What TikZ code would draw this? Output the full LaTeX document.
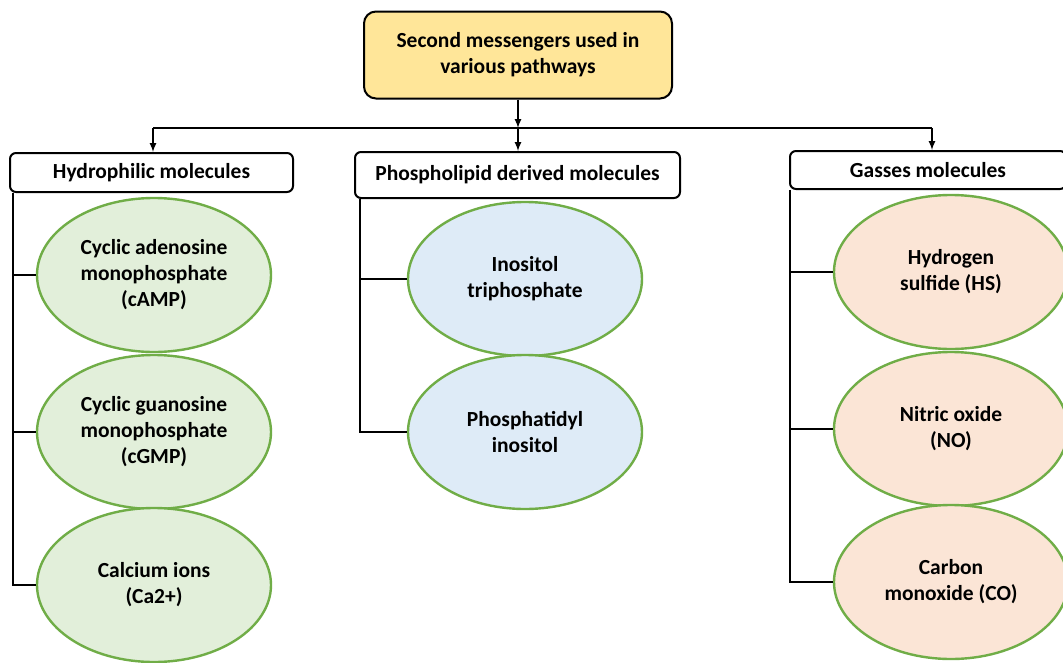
\documentclass[tikz,border=0pt]{standalone}
\usepackage{fontspec}
\setmainfont{Carlito}
\usepackage{xcolor}
\usepackage{tikz}
\usetikzlibrary{shapes,shapes.geometric}
\usetikzlibrary{calc,arrows,positioning}
\definecolor{topfill}{HTML}{FFE699}
\definecolor{greenfill}{HTML}{E2EFDA}
\definecolor{bluefill}{HTML}{DEEBF7}
\definecolor{orangefill}{HTML}{FBE5D6}
\definecolor{ringcol}{HTML}{70AD47}
\tikzset{
  txt/.style = {align=center, text centered, inner sep=0pt, font=\fontsize{21.5}{26}\selectfont\bfseries},
  topbox/.style = {txt, draw, line width=2pt, rounded corners=12pt, fill=topfill, minimum width=308pt, minimum height=87pt},
  grpbox/.style = {txt, draw, line width=2pt, rounded corners=6pt, fill=white},
  mol/.style = {txt, ellipse, draw=ringcol, line width=2.4pt, minimum width=234pt, minimum height=154pt},
  mol_g/.style = {mol, fill=greenfill},
  mol_b/.style = {mol, fill=bluefill},
  mol_o/.style = {mol, fill=orangefill},
  bus/.style = {line width=2pt}
}
\begin{document}
\begin{tikzpicture}[x=1pt,y=-1pt]
  \useasboundingbox (0,0) rectangle (1063,662);
  % title
  \node[topbox] (top) at (518,55) {Second messengers used in\\various pathways};
  % groups
  \node[grpbox, minimum width=283pt, minimum height=39pt] (hyd) at (151.5,172.5) {Hydrophilic molecules};
  \node[grpbox, minimum width=325pt, minimum height=46pt] (pld) at (517.5,175) {Phospholipid derived molecules};
  \node[grpbox, minimum width=276pt, minimum height=38pt] (gas) at (928,170) {Gasses molecules};
  % molecules
  \node[mol_g] (camp) at (154,275) {Cyclic adenosine\\monophosphate\\(cAMP)};
  \node[mol_g] (cgmp) at (154,432) {Cyclic guanosine\\monophosphate\\(cGMP)};
  \node[mol_g] (ca) at (154,585) {Calcium ions\\(Ca2+)};
  \node[mol_b] (ip3) at (525,279) {Inositol\\triphosphate};
  \node[mol_b] (pi) at (525,432) {Phosphatidyl\\inositol};
  \node[mol_o] (hs) at (951,272) {Hydrogen\\sulfide (HS)};
  \node[mol_o] (no) at (951,429) {Nitric oxide\\(NO)};
  \node[mol_o] (co) at (951,582) {Carbon\\monoxide (CO)};
  % junctions
  \coordinate (jl) at (153,128);
  \coordinate (jm) at (518,128);
  \coordinate (jr) at (932,128);
  \coordinate (bl) at (13,0);
  \coordinate (bm) at (360,0);
  \coordinate (br) at (790,0);
  \draw[bus,-latex] (top) -- (jm);
  \draw[bus] (jl) -- (jr);
  \draw[bus,-latex] (jl) -- (jl |- hyd.north);
  \draw[bus,-latex] (jm) -- (jm |- pld.north);
  \draw[bus,-latex] (jr) -- (jr |- gas.north);
  % branches
  \draw[bus] (bl |- hyd.south) |- (camp.west);
  \draw[bus] (bl |- hyd.south) |- (cgmp.west);
  \draw[bus] (bl |- hyd.south) |- (ca.west);
  \draw[bus] (bm |- pld.south) |- (ip3.west);
  \draw[bus] (bm |- pld.south) |- (pi.west);
  \draw[bus] (br |- gas.south) |- (hs.west);
  \draw[bus] (br |- gas.south) |- (no.west);
  \draw[bus] (br |- gas.south) |- (co.west);
\end{tikzpicture}
\end{document}
